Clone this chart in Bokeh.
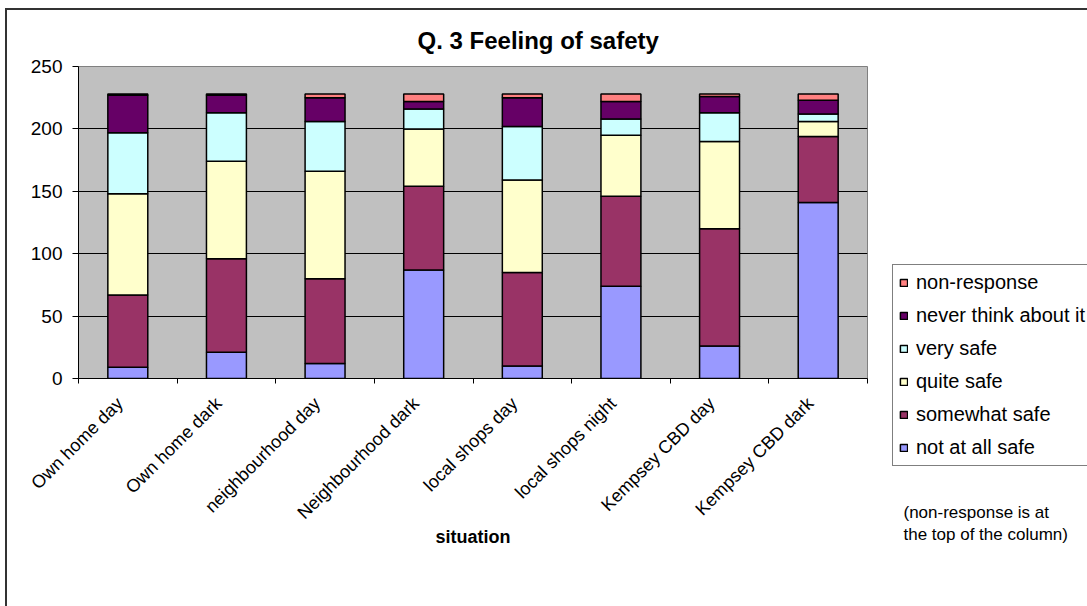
import math
from bokeh.plotting import figure
from bokeh.models import (FixedTicker, Legend, LegendItem, Label, ColumnDataSource, Range1d)
from bokeh.embed import file_html
from bokeh.resources import INLINE

# ---- data ----
categories = ["Own home day", "Own home dark", "neighbourhood day", "Neighbourhood dark",
              "local shops day", "local shops night", "Kempsey CBD day", "Kempsey CBD dark"]
not_at_all_safe = [9, 21, 12, 87, 10, 74, 26, 141]
somewhat_safe = [58, 75, 68, 67, 75, 72, 94, 53]
quite_safe = [81, 78, 86, 46, 74, 49, 70, 12]
very_safe = [49, 39, 40, 16, 43, 13, 23, 6]
never_think = [30, 14, 19, 6, 23, 14, 13, 11]
non_response = [1, 1, 3, 6, 3, 6, 2, 5]

series_names = ["not at all safe", "somewhat safe", "quite safe", "very safe",
                "never think about it", "non-response"]
series_values = [not_at_all_safe, somewhat_safe, quite_safe, very_safe, never_think, non_response]
series_colors = ["#9999FF", "#993366", "#FFFFCC", "#CCFFFF", "#660066", "#FF8080"]
y_ticks = [0, 50, 100, 150, 200, 250]

FONT = "Liberation Sans"

xpos = [i + 0.5 for i in range(len(categories))]
data = {"x": xpos}
keys = []
for i, vals in enumerate(series_values):
    k = "s%d" % i
    keys.append(k)
    data[k] = vals
src = ColumnDataSource(data)

p = figure(frame_width=789, frame_height=312,
           x_range=Range1d(0, len(categories)), y_range=Range1d(0, 250),
           output_backend="svg", toolbar_location=None,
           min_border_left=78, min_border_right=220, min_border_top=66, min_border_bottom=228)
p.background_fill_color = "#C0C0C0"
p.border_fill_color = None
p.outline_line_color = "#808080"
p.outline_line_width = 1
# outer chart-area border (left and top edges visible; the rest is cut off in the reference)
p.styles = {
    "background-color": "white",
    "background-image": "linear-gradient(#333333, #333333), linear-gradient(#333333, #333333)",
    "background-position": "5px 8px, 5px 8px",
    "background-size": "2px 100%, 100% 2px",
    "background-repeat": "no-repeat",
}

renderers = p.vbar_stack(keys, x="x", width=0.405, source=src, fill_color=series_colors,
                         line_color="black", line_width=1.5)

# title
p.title.text = "Q. 3 Feeling of safety"
p.title.align = "left"
p.title.offset = 339
p.title.text_font = FONT
p.title.text_font_size = "24px"
p.title.text_font_style = "bold"
p.title.text_color = "black"
p.title.standoff = 26

# grid
p.xgrid.visible = False
p.ygrid.ticker = FixedTicker(ticks=y_ticks)
p.ygrid.grid_line_color = "black"
p.ygrid.grid_line_width = 1

# y axis
ya = p.yaxis[0]
ya.ticker = FixedTicker(ticks=y_ticks)
ya.axis_line_color = "black"
ya.major_tick_line_color = "black"
ya.major_tick_out = 6
ya.major_tick_in = 0
ya.minor_tick_line_color = None
ya.major_label_text_font = FONT
ya.major_label_text_font_size = "19px"
ya.major_label_text_color = "black"
ya.major_label_standoff = 10

# x axis: invisible major ticks carry the (rotated) labels, minor ticks mark category bounds
label_shift = 0.08  # Excel places the rotated label end slightly left of the column centre
label_pos = [x - label_shift for x in xpos]
xa = p.xaxis[0]
xa.ticker = FixedTicker(ticks=label_pos, minor_ticks=list(range(len(categories) + 1)))
xa.major_label_overrides = {x: c for x, c in zip(label_pos, categories)}
xa.axis_line_color = "black"
xa.major_tick_out = 0
xa.major_tick_in = 0
xa.minor_tick_out = 5
xa.minor_tick_in = 0
xa.minor_tick_line_color = "black"
xa.major_label_orientation = math.pi / 4
xa.major_label_text_font = FONT
xa.major_label_text_font_size = "18px"
xa.major_label_text_color = "black"
xa.major_label_standoff = 17
xa.axis_label = "situation"
xa.axis_label_text_font = FONT
xa.axis_label_text_font_size = "18px"
xa.axis_label_text_font_style = "bold"
xa.axis_label_text_color = "black"
xa.axis_label_standoff = -6

# legend (side panel on the right, not clipped)
items = [LegendItem(label=n, renderers=[r]) for n, r in zip(series_names, renderers)][::-1]
legend = Legend(items=items, location=(25, -88), orientation="vertical",
                label_text_font=FONT, label_text_font_size="20px", label_text_color="black",
                glyph_width=9, glyph_height=9, label_height=20, spacing=10, padding=6,
                margin=0, label_standoff=8, border_line_color="black", border_line_width=1,
                background_fill_color="white", background_fill_alpha=1.0)
p.add_layout(legend, "right")

# note below the legend
note = Label(x=825, y=68, x_units="screen", y_units="screen",
             text="(non-response is at\nthe top of the column)", text_font=FONT,
             text_font_size="17px", text_color="black", text_align="left",
             text_baseline="middle", text_line_height=1.2)
p.add_layout(note, "below")

open("out.html", "w").write(file_html(p, INLINE))
